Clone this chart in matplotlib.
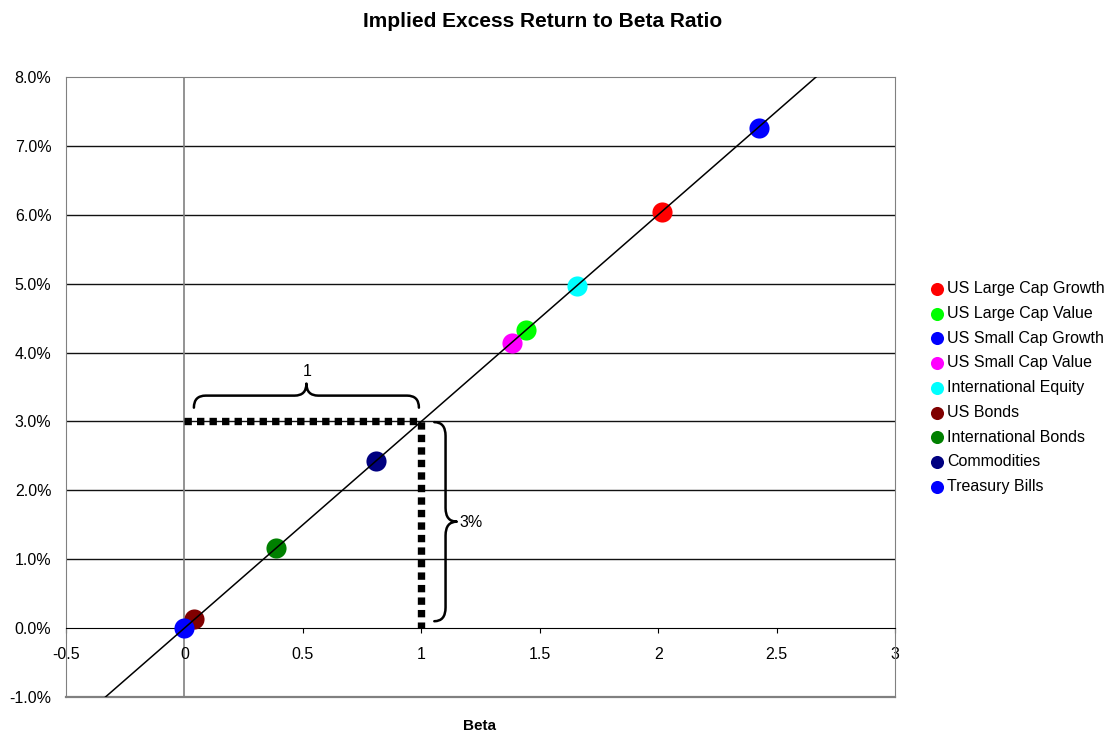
import matplotlib.pyplot as plt
import numpy as np
from matplotlib.path import Path
from matplotlib.patches import PathPatch
from matplotlib.ticker import FuncFormatter

plt.rcParams['font.family'] = ['Liberation Sans', 'DejaVu Sans']

ASSETS = ['US Large Cap Growth', 'US Large Cap Value', 'US Small Cap Growth',
          'US Small Cap Value', 'International Equity', 'US Bonds',
          'International Bonds', 'Commodities', 'Treasury Bills']
BETAS = [2.017, 1.443, 2.426, 1.384, 1.658, 0.042, 0.388, 0.810, 0.0]
EXCESS = [0.0604, 0.0433, 0.0726, 0.0414, 0.0496, 0.0013, 0.0116, 0.0242, 0.0]
COLORS = ['#FF0000', '#00FF00', '#0000FF', '#FF00FF', '#00FFFF',
          '#800000', '#008000', '#000080', '#0000FF']

RATIO = 0.03   # excess return per unit of beta
XTICKS = [-0.5, 0, 0.5, 1, 1.5, 2, 2.5, 3]
YTICKS = np.arange(-0.01, 0.081, 0.01)
FS = 11.5


def brace(ax, a, b, base, depth, r, horizontal=True):
    # curly brace from a to b, sitting at base and pointing by depth
    m = (a + b) / 2
    mid = base + depth / 2
    tip = base + depth
    pts = [(a, base), (a, mid), (a + r, mid), (m - r, mid), (m, mid), (m, tip),
           (m, mid), (m + r, mid), (b - r, mid), (b, mid), (b, base)]
    codes = [Path.MOVETO, Path.CURVE3, Path.CURVE3, Path.LINETO, Path.CURVE3, Path.CURVE3,
             Path.CURVE3, Path.CURVE3, Path.LINETO, Path.CURVE3, Path.CURVE3]
    if not horizontal:
        pts = [(y, x) for x, y in pts]
    ax.add_patch(PathPatch(Path(pts, codes), fill=False, lw=1.8, color='black',
                           capstyle='round', joinstyle='round', zorder=5))


fig = plt.figure(figsize=(11.07, 7.34), dpi=100)
ax = fig.add_axes([0.0596, 0.0504, 0.7489, 0.8447])
ax.set_xlim(-0.5, 3)
ax.set_ylim(-0.01, 0.08)

for y in YTICKS[1:-1]:
    if abs(y) > 1e-9:
        ax.axhline(y, color='#111111', lw=1, zorder=1)
ax.axvline(0, color='#808080', lw=1.2, zorder=1)

# security market line through the origin
lx = np.array([ax.get_ylim()[0] / RATIO, ax.get_ylim()[1] / RATIO])
ax.plot(lx, RATIO * lx, color='black', lw=1.1, zorder=4)

for name, b, e, c in zip(ASSETS, BETAS, EXCESS, COLORS):
    ax.scatter(b, e, s=210, color=c, label=name, zorder=3, linewidths=0)

# one unit of beta -> RATIO of excess return
ax.plot([0, 1, 1], [RATIO, RATIO, 0], color='black', lw=5.3,
        linestyle=(0, (1, 0.7)), dash_capstyle='butt', zorder=6)
brace(ax, 0.04, 0.99, 0.0320, 0.0035, 0.05, horizontal=True)
ax.text(0.52, 0.0372, '1', ha='center', va='center', fontsize=FS)
brace(ax, 0.001, RATIO - 0.0001, 1.055, 0.095, 0.0020, horizontal=False)
ax.text(1.163, 0.0154, '3%', ha='left', va='center', fontsize=FS)

for side in ['top', 'right', 'left']:
    ax.spines[side].set_color('#808080')
ax.spines['bottom'].set_position(('data', 0))
ax.spines['bottom'].set_color('black')
ax.axhline(-0.01, color='#808080', lw=1.6, clip_on=False, zorder=1)

ax.set_xticks(XTICKS)
ax.set_xticklabels(['-0.5', '0', '0.5', '1', '1.5', '2', '2.5', '3'])
ax.set_yticks(YTICKS)
ax.yaxis.set_major_formatter(FuncFormatter(lambda v, _: f'{v * 100:.1f}%'))
ax.tick_params(axis='x', labelsize=FS, direction='out', length=3.6, color='black', pad=10)
ax.tick_params(axis='y', labelsize=FS, length=0, pad=10.5)

fig.text(0.4335, 0.0105, 'Beta', ha='center', va='center', fontsize=11, fontweight='bold')
fig.text(0.4906, 0.971, 'Implied Excess Return to Beta Ratio', ha='center', va='center',
         fontsize=15, fontweight='bold')

handles, labels = ax.get_legend_handles_labels()
fig.legend(handles, labels, loc='center left', bbox_to_anchor=(0.833, 0.472), frameon=False,
           fontsize=FS, markerscale=0.65, handletextpad=0.16, labelspacing=0.61,
           handlelength=1.0, borderaxespad=0)

fig.savefig('out.png', dpi=100)
